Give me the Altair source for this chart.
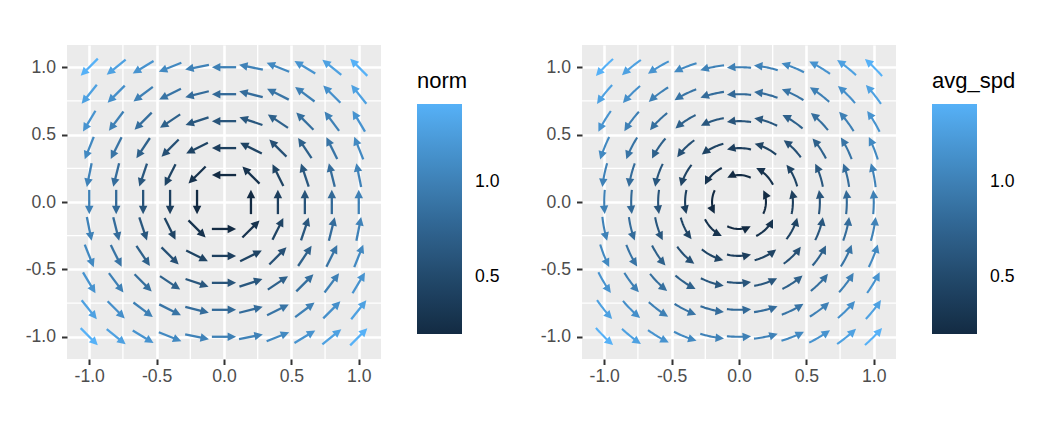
import pandas as pd
import altair as alt

# grid positions, used for both axes
grid = [-1.0, -0.8, -0.6, -0.4, -0.2, 0.0, 0.2, 0.4, 0.6, 0.8, 1.0]
# horizontal component, read per row (rows follow grid, bottom to top)
u_row = [1.0, 0.8, 0.6, 0.4, 0.2, 0.0, -0.2, -0.4, -0.6, -0.8, -1.0]
# vertical component, read per column (columns follow grid, left to right)
v_col = [-1.0, -0.8, -0.6, -0.4, -0.2, 0.0, 0.2, 0.4, 0.6, 0.8, 1.0]

major_breaks = [-1.0, -0.5, 0.0, 0.5, 1.0]
minor_breaks = [-0.75, -0.25, 0.25, 0.75]
legend_breaks = [0.5, 1.0]

ARROW_LEN = 0.18   # tail to tip, data units
TRIM = 0.03        # stop the shaft inside the head
HEAD = "M0,0L1.0,2L-1.0,2Z"
FONT = "Liberation Sans"
LABEL = "(datum.value < 0 ? '-' : '') + format(abs(datum.value), '.1f')"

rows = []
for j, yv in enumerate(grid):
    for i, xv in enumerate(grid):
        u, v = u_row[j], v_col[i]
        if u == 0 and v == 0:
            continue  # zero vector is dropped
        rows.append(dict(id=len(rows), x=xv, y=yv, u=u, v=v))
df = pd.DataFrame(rows)

XS = alt.Scale(domain=[-1.165, 1.165], nice=False, zero=False)
YS = alt.Scale(domain=[-1.165, 1.165], nice=False, zero=False)
AX = alt.Axis(values=major_breaks, labelExpr=LABEL, title=None)
CS = alt.Scale(range=["#132B43", "#56B1F7"], interpolate="lab", zero=False, nice=False)


def minor_grid():
    m = pd.DataFrame({"m": minor_breaks})
    vert = alt.Chart(m).mark_rule(color="white", strokeWidth=1.3).encode(
        x=alt.X("m:Q", scale=XS, axis=AX))
    horiz = alt.Chart(m).mark_rule(color="white", strokeWidth=1.3).encode(
        y=alt.Y("m:Q", scale=YS, axis=AX))
    return [vert, horiz]


def legend(title):
    return alt.Legend(title=title, type="gradient", values=legend_breaks, format=".1f",
                      orient="none", legendX=350, legendY=26, direction="vertical")


# ---- left: vector field
h = ARROW_LEN / 2
base = (
    alt.Chart(df)
    .transform_calculate(norm="sqrt(datum.u*datum.u + datum.v*datum.v)")
    .transform_calculate(dx="datum.u / datum.norm", dy="datum.v / datum.norm")
    .transform_calculate(
        x0=f"datum.x - {h}*datum.dx", y0=f"datum.y - {h}*datum.dy",
        x1=f"datum.x + {h - TRIM}*datum.dx", y1=f"datum.y + {h - TRIM}*datum.dy",
        xt=f"datum.x + {h}*datum.dx", yt=f"datum.y + {h}*datum.dy",
        ang="(atan2(datum.dx, datum.dy)*180/PI + 360) % 360",
    )
)

shafts = base.mark_rule(strokeWidth=2.3).encode(
    x=alt.X("x0:Q", scale=XS, axis=AX), y=alt.Y("y0:Q", scale=YS, axis=AX),
    x2="x1:Q", y2="y1:Q",
    stroke=alt.Stroke("norm:Q", scale=CS, legend=None))
heads = base.mark_point(shape=HEAD, filled=True, size=72, opacity=1).encode(
    x=alt.X("xt:Q", scale=XS, axis=AX), y=alt.Y("yt:Q", scale=YS, axis=AX),
    angle=alt.Angle("ang:Q", scale=None),
    fill=alt.Fill("norm:Q", scale=CS, legend=legend("norm")))

left = alt.layer(*minor_grid(), shafts, heads).properties(width=314, height=314)

# ---- right: stream field (flow of the field along each short streamlet)
base2 = (
    alt.Chart(df)
    .transform_calculate(avg_spd="sqrt(datum.u*datum.u + datum.v*datum.v)")
    .transform_calculate(ht=f"{h} / datum.avg_spd", te=f"{h - TRIM} / datum.avg_spd")
)

streams = (
    base2.transform_calculate(k="sequence(0, 13)")
    .transform_flatten(["k"])
    .transform_calculate(tau="-datum.ht + (datum.ht + datum.te) * datum.k / 12")
    .transform_calculate(
        px="datum.x*cos(datum.tau) - datum.y*sin(datum.tau)",
        py="datum.x*sin(datum.tau) + datum.y*cos(datum.tau)",
    )
    .mark_line(strokeWidth=2.1)
    .encode(x=alt.X("px:Q", scale=XS, axis=AX), y=alt.Y("py:Q", scale=YS, axis=AX),
            detail="id:N", order="k:Q",
            stroke=alt.Stroke("avg_spd:Q", scale=CS, legend=None))
)
heads2 = (
    base2.transform_calculate(
        hx="datum.x*cos(datum.ht) - datum.y*sin(datum.ht)",
        hy="datum.x*sin(datum.ht) + datum.y*cos(datum.ht)",
    )
    .transform_calculate(ang="(atan2(-datum.hy, datum.hx)*180/PI + 360) % 360")
    .mark_point(shape=HEAD, filled=True, size=72, opacity=1)
    .encode(x=alt.X("hx:Q", scale=XS, axis=AX), y=alt.Y("hy:Q", scale=YS, axis=AX),
            angle=alt.Angle("ang:Q", scale=None),
            fill=alt.Fill("avg_spd:Q", scale=CS, legend=legend("avg_spd")))
)

right = alt.layer(*minor_grid(), streams, heads2).properties(width=314, height=314)

chart = (
    alt.hconcat(left, right, spacing=40)
    .resolve_scale(fill="independent", stroke="independent", x="independent", y="independent")
    .resolve_legend(fill="independent", stroke="independent")
    .properties(padding={"left": 17, "top": 36, "right": 5, "bottom": 5}, background="white")
    .configure_view(fill="#EBEBEB", strokeWidth=0)
    .configure_axis(labelFont=FONT, labelFontSize=17.6, labelColor="#4D4D4D",
                    tickColor="#333333", tickSize=5.5, tickWidth=2, domain=False,
                    grid=True, gridColor="white", gridWidth=2.6)
    .configure_axisX(labelPadding=3)
    .configure_axisY(labelPadding=6)
    .configure_legend(titleFont=FONT, labelFont=FONT, titleFontSize=22, labelFontSize=17.6,
                      titleFontWeight="normal", titleColor="black", labelColor="black",
                      gradientLength=230, gradientThickness=45, gradientStrokeWidth=0,
                      gradientLabelOffset=13, titlePadding=11, padding=0)
)

chart.save("out.html", embed_options={"renderer": "svg", "actions": False})
